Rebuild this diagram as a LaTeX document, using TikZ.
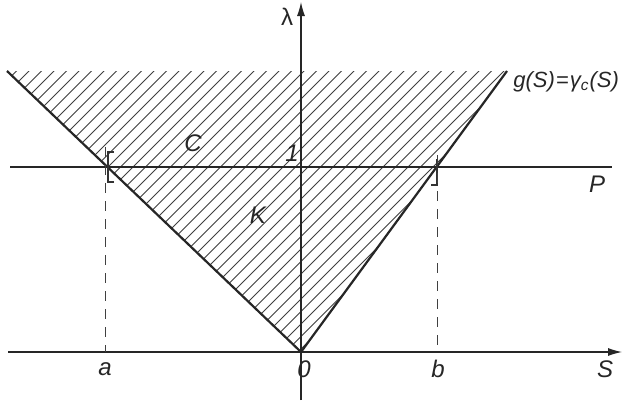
\documentclass[tikz,border=0pt]{standalone}
\usepackage{fontspec}
\setmainfont{Liberation Sans}
\usetikzlibrary{arrows.meta}
\begin{document}
\begin{tikzpicture}[x=0.5pt,y=-0.5pt,
  axis/.style={line width=0.55pt,draw=black!85},
  bound/.style={line width=1.1pt,draw=black!85},
  hatch/.style={line width=0.45pt,draw=black!75},
  dashline/.style={line width=0.5pt,draw=black!75,dash pattern=on 5pt off 4pt},
  lbl/.style={font=\fontsize{12}{12}\selectfont\itshape,inner sep=0pt,text=black!85}]
\useasboundingbox (0,0) rectangle (622,402);
\fill[white] (0,0) rectangle (622,402);
% key points
\coordinate (O) at (301,352);
\coordinate (TL) at (7,71);
\coordinate (TR) at (507,71);
\coordinate (A) at (108,167);
\coordinate (B) at (437,167);
\coordinate (Aa) at (105,352);
\coordinate (Bb) at (437,352);
\coordinate (Pl) at (10,167);
\coordinate (Pr) at (612,167);
\coordinate (Xl) at (8,352);
\coordinate (Xr) at (622,352);
\coordinate (Yb) at (301,400);
\coordinate (Yt) at (301,2);
% hatching
\begin{scope}
\clip (TL) -- (O) -- (TR) -- cycle;
\foreach \k in {-400,-387.5,...,700}
  \draw[hatch] (\k,400) -- ++(400,-400);
\end{scope}
% axes
\draw[axis,-{Latex[length=7pt,width=4pt]}] (Xl) -- (Xr);
\draw[axis,-{Latex[length=7pt,width=4pt]}] (Yb) -- (Yt);
\draw[axis] (Pl) -- (Pr);
% boundary lines
\draw[bound] (TL) -- (O);
\draw[bound] (O) -- (TR);
% brackets
\draw[line width=0.6pt,black!80] ([xshift=3pt,yshift=-7.5pt]A) -- ([yshift=-7.5pt]A) -- ([yshift=7.5pt]A) -- ([xshift=3pt,yshift=7.5pt]A);
\draw[line width=0.6pt,black!80] ([xshift=-3pt,yshift=-9pt]B) -- ([yshift=-9pt]B) -- ([yshift=4pt]B);
% dashed verticals
\draw[dashline] ([yshift=10pt]A -| Aa) -- (Aa);
\draw[dashline] ([yshift=6pt]B) -- (Bb);
% labels
\node[lbl] (lam) at (287,17) {\upshape λ};
\node[lbl] (one) at (292,153) {1};
\node[lbl] (C) at (193,143) {C};
\node[lbl] (K) at (258,215) {K};
\node[lbl] (P) at (597,184) {P};
\node[lbl,anchor=west,font=\fontsize{11}{11}\selectfont\itshape] (g) at (513,82) {g(S)\kern0.5pt=\kern0.5ptγ\textsubscript{c}(S)};
\node[lbl] (a) at (105,369) {a};
\node[lbl] (zero) at (304,369) {0};
\node[lbl] (b) at (438,369) {b};
\node[lbl] (S) at (605,369) {S};
\end{tikzpicture}
\end{document}
